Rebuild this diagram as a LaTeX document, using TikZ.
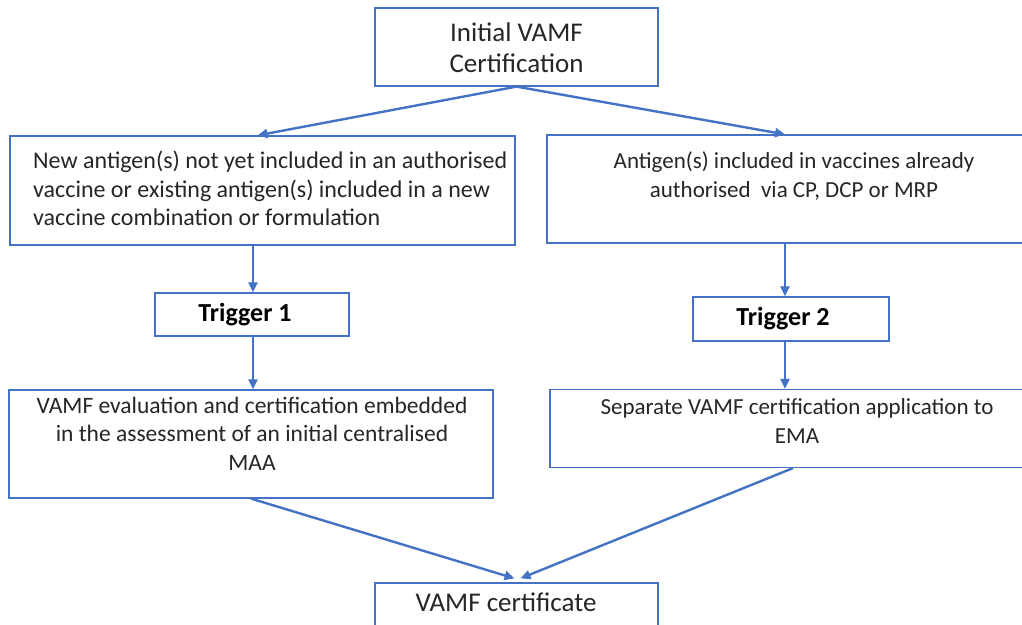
\documentclass[tikz,border=0pt]{standalone}
\usepackage{fontspec}
\setmainfont{Carlito}
\usetikzlibrary{arrows.meta}
\definecolor{ofblue}{HTML}{4472C4}
\definecolor{txt}{HTML}{262626}
\tikzset{
  box/.style={draw=ofblue, line width=1.2pt, rectangle, inner sep=0pt, fill=white},
  lbl/.style={inner sep=0pt, text=txt, font=\fontsize{23}{28.5}\selectfont, align=center},
  flow/.style={draw=ofblue, line width=2.4pt, -{Triangle[length=10pt,width=9pt]}},
}
\begin{document}
\begin{tikzpicture}[x=1pt,y=-1pt]
\useasboundingbox (0,0) rectangle (1022,624);
% boxes
\node[box, minimum width=283pt, minimum height=78pt] (n1) at (516.5,47) {};
\node[box, minimum width=505pt, minimum height=109pt] (nL) at (262.5,190.5) {};
\node[box, minimum width=489pt, minimum height=108pt] (nR) at (791.5,189) {};
\node[box, minimum width=194pt, minimum height=43pt] (t1) at (252,314.5) {};
\node[box, minimum width=196pt, minimum height=44pt] (t2) at (791,319) {};
\node[box, minimum width=484pt, minimum height=108pt] (nLL) at (251,444) {};
\node[box, minimum width=486pt, minimum height=78pt] (nRR) at (793,428.5) {};
\node[box, minimum width=283pt, minimum height=80pt] (nB) at (516.5,623) {};
% texts
\node[lbl, font=\fontsize{27}{31}\selectfont] (l1) at (516.5,47.5) {Initial VAMF\\Certification};
\node[lbl, align=left, anchor=west, font=\fontsize{24}{28.5}\selectfont] (lL) at (33,188.5) {New antigen(s) not yet included in an authorised\\vaccine or existing antigen(s) included in a new\\vaccine combination or formulation};
\node[lbl] (lR) at (794,176) {Antigen(s) included in vaccines already\\authorised\ \ via CP, DCP or MRP};
\node[lbl, text=black, font=\bfseries\fontsize{26}{30}\selectfont] (lt1) at (245,315) {Trigger 1};
\node[lbl, text=black, font=\bfseries\fontsize{26}{30}\selectfont] (lt2) at (783,318.5) {Trigger 2};
\node[lbl, font=\fontsize{23.5}{28.5}\selectfont] (lLL) at (252,433.5) {VAMF evaluation and certification embedded\\in the assessment of an initial centralised\\MAA};
\node[lbl] (lRR) at (797,421) {Separate VAMF certification application to\\EMA};
\node[lbl, font=\fontsize{27}{31}\selectfont] (lB) at (506,602) {VAMF certificate};
% guide coordinates
\coordinate (xL) at (253,0);
\coordinate (xR) at (785,0);
% connectors
\draw[flow] (n1.south) -- ([xshift=-5pt]nL.north);
\draw[flow] (n1.south) -- (nR.north -| xR);
\draw[flow] (nL.south -| xL) -- (t1.north -| xL);
\draw[flow] (t1.south -| xL) -- (nLL.north -| xL);
\draw[flow] (nR.south -| xR) -- (t2.north -| xR);
\draw[flow] (t2.south -| xR) -- (nRR.north -| xR);
\draw[flow] (nLL.south) -- ([xshift=-2pt,yshift=4pt]nB.north);
\draw[flow] (nRR.south) -- ([xshift=4pt,yshift=4pt]nB.north);
\end{tikzpicture}
\end{document}
